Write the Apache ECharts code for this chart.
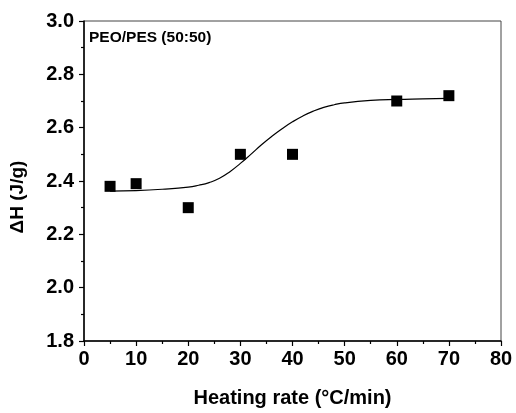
<!DOCTYPE html>
<html>
<head>
<meta charset="utf-8">
<script src="https://cdn.jsdelivr.net/npm/echarts@6/dist/echarts.min.js"></script>
<style>
  html, body { margin: 0; padding: 0; background: #fff; }
  #chart { width: 516px; height: 413px; }
</style>
</head>
<body>
<div id="chart"></div>
<script>
  // measured points
  var rateX = [5, 10, 20, 30, 40, 60, 70];
  var deltaH = [2.38, 2.39, 2.30, 2.50, 2.50, 2.70, 2.72];
  // fitted curve
  var fitX = [5, 10, 15, 20, 22, 24, 26, 28, 30, 32, 34, 36, 38, 40, 42, 44, 46, 48, 50, 55, 60, 65, 70];
  var fitY = [2.362, 2.364, 2.369, 2.377, 2.384, 2.394, 2.41, 2.435, 2.466, 2.50, 2.535, 2.567,
              2.596, 2.622, 2.644, 2.662, 2.676, 2.686, 2.693, 2.702, 2.706, 2.708, 2.71];
  var sampleLabel = 'PEO/PES (50:50)';

  var font = 'Liberation Sans, Arial, Helvetica, sans-serif';
  var chart = echarts.init(document.getElementById('chart'));

  var points = rateX.map(function (x, i) { return [x, deltaH[i]]; });
  var curve = fitX.map(function (x, i) { return [x, fitY[i]]; });

  var option = {
    animation: false,
    backgroundColor: '#fff',
    title: {
      text: sampleLabel,
      left: 89,
      top: 30,
      padding: 0,
      textStyle: { fontFamily: font, fontWeight: 'bold', fontSize: 15.5, color: '#000' }
    },
    grid: {
      left: 83, right: 15, top: 21, bottom: 72,
      show: true, borderColor: '#444', borderWidth: 1
    },
    xAxis: {
      type: 'value',
      min: 0, max: 80, interval: 10,
      name: 'Heating rate (°C/min)',
      nameLocation: 'middle',
      nameGap: 47,
      nameTextStyle: { fontFamily: font, fontWeight: 'bold', fontSize: 20, color: '#000' },
      axisLine: { lineStyle: { color: '#000', width: 1.5 } },
      axisTick: { length: 5, lineStyle: { color: '#000', width: 1.2 } },
      minorTick: { show: true, splitNumber: 2, length: 3, lineStyle: { color: '#000', width: 1.2 } },
      axisLabel: { margin: 8, fontFamily: font, fontWeight: 'bold', fontSize: 20, color: '#000' },
      splitLine: { show: false }
    },
    yAxis: {
      type: 'value',
      min: 1.8, max: 3.0, interval: 0.2,
      name: 'ΔH (J/g)',
      nameLocation: 'middle',
      nameGap: 57,
      nameTextStyle: {
        fontFamily: font, fontWeight: 'bold', fontSize: 19, color: '#000',
        padding: [0, 32, 0, 0]
      },
      axisLine: { lineStyle: { color: '#000', width: 1.5 } },
      axisTick: { length: 5, lineStyle: { color: '#000', width: 1.2 } },
      minorTick: { show: true, splitNumber: 2, length: 3, lineStyle: { color: '#000', width: 1.2 } },
      axisLabel: {
        margin: 10, fontFamily: font, fontWeight: 'bold', fontSize: 20, color: '#000',
        formatter: function (v) { return v.toFixed(1); }
      },
      splitLine: { show: false }
    },
    series: [
      {
        type: 'line',
        data: curve,
        smooth: true,
        symbol: 'none',
        lineStyle: { color: '#000', width: 1.2 },
        z: 2
      },
      {
        type: 'scatter',
        data: points,
        symbol: 'rect',
        symbolSize: 11,
        itemStyle: { color: '#000', opacity: 1 },
        z: 3
      }
    ]
  };

  chart.setOption(option);
</script>
</body>
</html>
